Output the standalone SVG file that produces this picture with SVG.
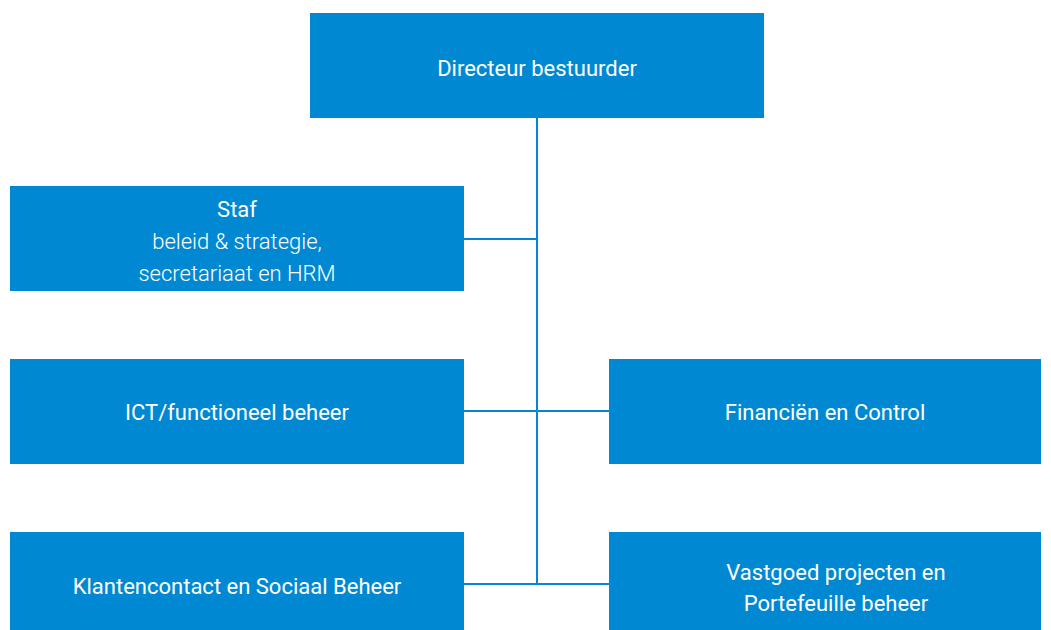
<svg xmlns="http://www.w3.org/2000/svg" width="1051" height="630" viewBox="0 0 1051 630">
  <style>
    .box { fill: #0089d2; }
    .t { font-family: Roboto, "Liberation Sans", sans-serif; font-size: 22px; fill: #ffffff; text-anchor: middle; dominant-baseline: central; }
    .m { font-weight: 400; }
    .r { font-weight: 300; }
    .link { stroke: #0089d2; stroke-width: 2; fill: none; }
  </style>
  <rect width="1051" height="630" fill="#ffffff"/>

  <g id="connectors">
    <line class="link" x1="537" y1="118" x2="537" y2="585"/>
    <line class="link" x1="464" y1="239" x2="537" y2="239"/>
    <line class="link" x1="464" y1="411" x2="609" y2="411"/>
    <line class="link" x1="464" y1="584" x2="609" y2="584"/>
  </g>

  <g id="directeur">
    <rect class="box" x="310" y="13" width="454" height="105"/>
    <text class="t m" x="537" y="68">Directeur bestuurder</text>
  </g>

  <g id="staf">
    <rect class="box" x="10" y="186" width="454" height="105"/>
    <text class="t m" x="237" y="209">Staf</text>
    <text class="t r" x="237" y="241">beleid &amp; strategie,</text>
    <text class="t r" x="237" y="273">secretariaat en HRM</text>
  </g>

  <g id="ict">
    <rect class="box" x="10" y="359" width="454" height="105"/>
    <text class="t m" x="237" y="412">ICT/functioneel beheer</text>
  </g>

  <g id="financien">
    <rect class="box" x="609" y="359" width="432" height="105"/>
    <text class="t m" x="825" y="412">Financiën en Control</text>
  </g>

  <g id="klantencontact">
    <rect class="box" x="10" y="532" width="454" height="98"/>
    <text class="t m" x="237" y="586">Klantencontact en Sociaal Beheer</text>
  </g>

  <g id="vastgoed">
    <rect class="box" x="609" y="532" width="432" height="98"/>
    <text class="t m" x="836" y="572">Vastgoed projecten en</text>
    <text class="t m" x="836" y="603">Portefeuille beheer</text>
  </g>
</svg>
